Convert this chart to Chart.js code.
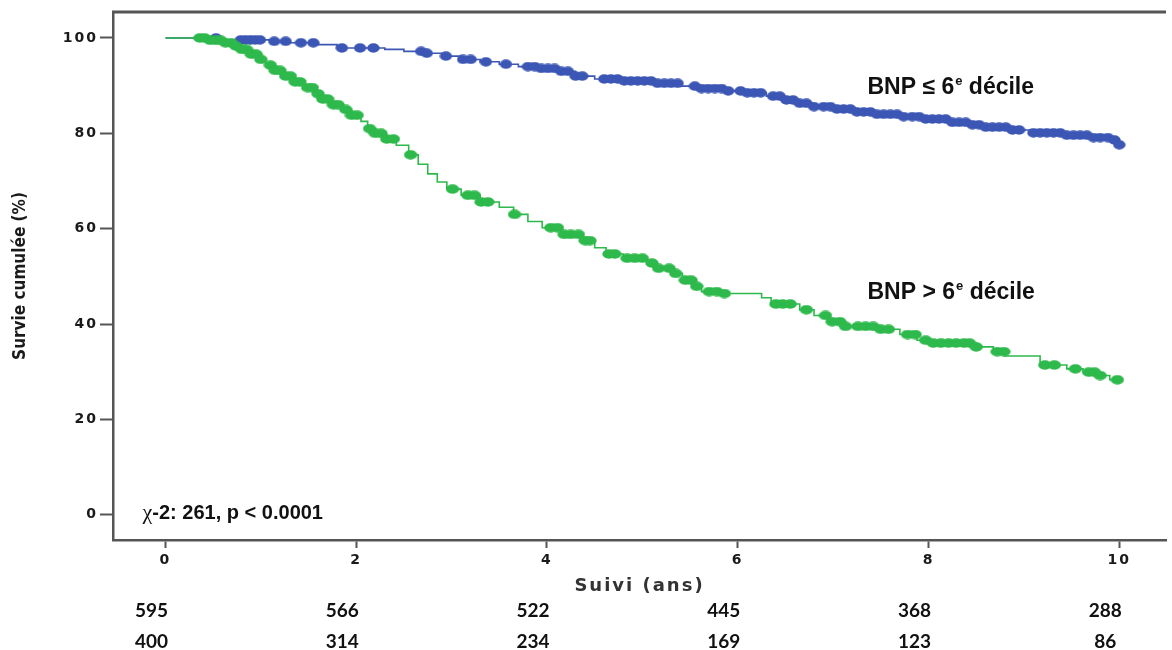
<!DOCTYPE html>
<html>
<head>
<meta charset="utf-8">
<script src="https://cdn.jsdelivr.net/npm/chart.js@4.4.0/dist/chart.umd.min.js"></script>
<style>
  html, body { margin: 0; padding: 0; background: #fff; }
  canvas { display: block; }
</style>
</head>
<body>
<canvas id="km" width="1172" height="650"></canvas>
<script>
// axes
const xTicks = [0, 2, 4, 6, 8, 10];
const yTicks = [0, 20, 40, 60, 80, 100];

// BNP <= 6e décile : temps (ans) / survie cumulée (%)
const lowT = [0, 0.6, 1.1, 1.3, 1.6, 1.8, 2.3, 2.5, 2.7, 2.9, 3.1, 3.3, 3.5, 3.7, 3.9, 4.1, 4.3, 4.5, 4.8, 5.1, 5.4, 5.6, 5.9, 6.1, 6.3, 6.45, 6.6, 6.8, 7.0, 7.2, 7.45, 7.7, 7.95, 8.2, 8.4, 8.6, 8.85, 9.1, 9.4, 9.7, 9.9, 10.0];
const lowS = [100, 99.6, 99.3, 99.0, 98.6, 97.9, 97.6, 97.2, 96.8, 96.2, 95.5, 95.0, 94.5, 94.0, 93.6, 93.0, 92.0, 91.4, 91.0, 90.5, 89.9, 89.4, 88.9, 88.5, 87.8, 87.0, 86.3, 85.6, 85.1, 84.5, 84.0, 83.5, 83.0, 82.3, 81.8, 81.3, 80.7, 80.1, 79.6, 79.1, 78.6, 77.6];
// censures
const lowCensor = [0.53, 0.79, 0.84, 0.89, 0.94, 0.99, 1.14, 1.26, 1.42, 1.55, 1.85, 2.04, 2.18, 2.68, 2.74, 2.94, 3.12, 3.2, 3.36, 3.57, 3.8, 3.87, 3.94, 4.01, 4.08, 4.15, 4.22, 4.3, 4.37, 4.6, 4.67, 4.74, 4.81, 4.88, 4.95, 5.02, 5.09, 5.16, 5.23, 5.3, 5.37, 5.55, 5.62, 5.69, 5.76, 5.83, 5.9, 6.03, 6.1, 6.17, 6.24, 6.37, 6.44, 6.51, 6.58, 6.65, 6.72, 6.8, 6.9, 6.97, 7.04, 7.11, 7.18, 7.25, 7.32, 7.39, 7.46, 7.53, 7.6, 7.67, 7.74, 7.83, 7.9, 7.97, 8.04, 8.11, 8.18, 8.25, 8.32, 8.39, 8.46, 8.53, 8.6, 8.67, 8.74, 8.81, 8.88, 8.95, 9.1, 9.17, 9.24, 9.31, 9.38, 9.45, 9.52, 9.59, 9.66, 9.73, 9.8, 9.88, 9.95, 10.0];

// BNP > 6e décile
const highT = [0, 0.45, 0.6, 0.7, 0.78, 0.88, 0.97, 1.05, 1.15, 1.25, 1.35, 1.45, 1.55, 1.65, 1.75, 1.85, 1.95, 2.05, 2.12, 2.2, 2.3, 2.42, 2.55, 2.65, 2.75, 2.85, 2.95, 3.1, 3.3, 3.5, 3.65, 3.8, 3.95, 4.15, 4.35, 4.5, 4.62, 4.8, 5.05, 5.15, 5.3, 5.42, 5.52, 5.62, 5.8, 6.25, 6.35, 6.65, 6.8, 6.95, 7.1, 7.5, 7.7, 7.88, 8.0, 8.5, 8.68, 8.8, 9.17, 9.45, 9.62, 9.78, 9.9, 10.0];
const highS = [100, 99.5, 99.0, 98.3, 97.6, 96.6, 95.5, 94.3, 93.2, 92.0, 90.8, 89.6, 88.3, 87.2, 86.0, 85.0, 83.8, 82.5, 81.0, 80.0, 78.8, 77.5, 75.5, 73.5, 71.5, 69.8, 68.3, 67.0, 65.6, 64.5, 63.0, 61.5, 60.2, 58.8, 57.5, 56.0, 54.7, 53.8, 52.8, 51.7, 50.6, 49.2, 47.9, 46.8, 46.4, 45.5, 44.2, 43.0, 41.8, 40.5, 39.5, 38.9, 37.8, 36.6, 36.0, 35.2, 34.2, 33.3, 31.4, 30.6, 29.9, 29.2, 28.3, 27.5];
const highCensor = [0.36, 0.41, 0.47, 0.53, 0.58, 0.63, 0.69, 0.74, 0.8, 0.85, 0.9, 0.95, 1.0, 1.1, 1.15, 1.2, 1.26, 1.31, 1.36, 1.41, 1.49, 1.54, 1.6, 1.65, 1.7, 1.76, 1.81, 1.89, 1.95, 2.01, 2.14, 2.2, 2.26, 2.32, 2.39, 2.57, 3.01, 3.17, 3.24, 3.31, 3.38, 3.66, 4.04, 4.11, 4.18, 4.25, 4.33, 4.4, 4.45, 4.65, 4.71, 4.84, 4.92, 5.0, 5.1, 5.17, 5.28, 5.35, 5.45, 5.51, 5.57, 5.7, 5.78, 5.86, 6.4, 6.47, 6.55, 6.72, 6.92, 6.99, 7.07, 7.13, 7.26, 7.34, 7.42, 7.5, 7.58, 7.78, 7.86, 7.97, 8.05, 8.13, 8.21, 8.29, 8.37, 8.43, 8.5, 8.72, 8.79, 9.22, 9.32, 9.54, 9.68, 9.74, 9.8, 9.98];

// patients à risque
const atRiskLow = [595, 566, 522, 445, 368, 288];
const atRiskHigh = [400, 314, 234, 169, 123, 86];

const BLUE = '#3b56b4';
const GREEN = '#2db94b';
const AXIS = '#555';

// valeur de la courbe en escalier au temps t
function survAt(T, S, t) {
    let v = S[0];
    for (let i = 0; i < T.length; i++) if (T[i] <= t) v = S[i];
    return v;
}

function ellipseDot(color, w, h) {
    const c = document.createElement('canvas');
    c.width = w; c.height = h;
    const g = c.getContext('2d');
    g.fillStyle = color;
    g.beginPath();
    g.ellipse(w / 2, h / 2, w / 2 - 0.3, h / 2 - 0.3, 0, 0, Math.PI * 2);
    g.fill();
    return c;
}

const lowLine = lowT.map((t, i) => ({x: t, y: lowS[i]}));
const highLine = highT.map((t, i) => ({x: t, y: highS[i]}));
const lowMarks = lowCensor.map(t => ({x: t, y: survAt(lowT, lowS, t)}));
const highMarks = highCensor.map(t => ({x: t, y: survAt(highT, highS, t)}));

// texte avec exposant "e"
function supLabel(ctx, x, y, before, sup, after) {
    ctx.font = 'bold 23px "Liberation Sans", Arial, sans-serif';
    ctx.fillText(before, x, y);
    x += ctx.measureText(before).width + 1;
    ctx.font = 'bold 13px "Liberation Sans", Arial, sans-serif';
    ctx.fillText(sup, x, y - 9);
    x += ctx.measureText(sup).width;
    ctx.font = 'bold 23px "Liberation Sans", Arial, sans-serif';
    ctx.fillText(after, x, y);
}

const decorations = {
    id: 'decorations',
    beforeDraw(chart) { chart.ctx.letterSpacing = '2px'; },
    beforeDatasetsDraw(chart) { chart.ctx.letterSpacing = '0px'; },
    afterDraw(chart) {
        const {ctx, chartArea: a, scales: {x, y}} = chart;
        ctx.save();
        ctx.letterSpacing = '0px';

        // cadre haut
        ctx.strokeStyle = AXIS;
        ctx.lineWidth = 3;
        ctx.beginPath();
        ctx.moveTo(a.left - 1, a.top);
        ctx.lineTo(a.right, a.top);
        ctx.stroke();

        // titre axe Y
        ctx.save();
        ctx.translate(21, (a.top + a.bottom) / 2);
        ctx.rotate(-Math.PI / 2);
        ctx.fillStyle = '#1a1a1a';
        ctx.font = 'bold 17px "Liberation Sans Narrow", "DejaVu Sans Condensed", sans-serif';
        ctx.textAlign = 'center';
        ctx.textBaseline = 'middle';
        ctx.fillText('Survie cumulée (%)', 0, 0);
        ctx.restore();

        ctx.fillStyle = '#111';
        ctx.textAlign = 'left';
        ctx.textBaseline = 'alphabetic';
        supLabel(ctx, x.getPixelForValue(7.36), y.getPixelForValue(88.3), 'BNP \u2264 6', 'e', ' décile');
        supLabel(ctx, x.getPixelForValue(7.36), y.getPixelForValue(45.3), 'BNP > 6', 'e', ' décile');

        // khi-deux
        let tx = x.getPixelForValue(-0.24);
        const ty = y.getPixelForValue(-0.8);
        ctx.font = '22px "Liberation Serif", "DejaVu Serif", serif';
        ctx.fillText('\u03c7', tx, ty);
        tx += ctx.measureText('\u03c7').width;
        ctx.font = 'bold 20px "Liberation Sans", Arial, sans-serif';
        ctx.fillText('-2: 261, p < 0.0001', tx, ty);

        // effectifs à risque
        ctx.font = 'bold 19px Lato, "Open Sans", sans-serif';
        ctx.textAlign = 'center';
        xTicks.forEach((t, i) => {
            const px = x.getPixelForValue(t) - 14;
            ctx.fillText(String(atRiskLow[i]), px, 617);
            ctx.fillText(String(atRiskHigh[i]), px, 648);
        });
        ctx.restore();
    }
};

const tickFont = {family: '"DejaVu Sans", Verdana, sans-serif', weight: 'bold', size: 14};

new Chart(document.getElementById('km'), {
    type: 'line',
    data: {
        datasets: [
            {data: highMarks, showLine: false, pointStyle: ellipseDot(GREEN, 14, 10), pointRadius: 5, pointHoverRadius: 5},
            {data: highLine, stepped: true, borderColor: GREEN, borderWidth: 1.6, pointRadius: 0, fill: false},
            {data: lowMarks, showLine: false, pointStyle: ellipseDot(BLUE, 13, 10), pointRadius: 5, pointHoverRadius: 5},
            {data: lowLine, stepped: true, borderColor: BLUE, borderWidth: 1.6, pointRadius: 0, fill: false}
        ]
    },
    options: {
        responsive: false,
        animation: false,
        events: [],
        layout: {padding: {top: 12, left: 0, right: 0, bottom: 0}},
        plugins: {legend: {display: false}, tooltip: {enabled: false}},
        scales: {
            x: {
                type: 'linear',
                min: -0.55,
                max: 10.49,
                afterBuildTicks: s => { s.ticks = xTicks.map(v => ({value: v})); },
                afterFit: s => { s.height = 110; },
                grid: {drawOnChartArea: false, drawTicks: true, tickLength: 8, tickColor: AXIS, tickWidth: 2},
                border: {display: true, color: AXIS, width: 2.5},
                ticks: {font: tickFont, color: '#1a1a1a', padding: 4, maxRotation: 0, autoSkip: false},
                title: {
                    display: true,
                    text: 'Suivi (ans)',
                    color: '#333',
                    font: {family: '"DejaVu Sans", Verdana, sans-serif', weight: 'bold', size: 18},
                    padding: {top: 0, bottom: 53}
                }
            },
            y: {
                type: 'linear',
                min: -5.3,
                max: 105.45,
                afterBuildTicks: s => { s.ticks = yTicks.map(v => ({value: v})); },
                afterFit: s => { s.width = 113; },
                grid: {drawOnChartArea: false, drawTicks: true, tickLength: 13, tickColor: AXIS, tickWidth: 2},
                border: {display: true, color: AXIS, width: 2.5},
                ticks: {font: tickFont, color: '#1a1a1a', padding: 2}
            }
        }
    },
    plugins: [decorations]
});
</script>
</body>
</html>
